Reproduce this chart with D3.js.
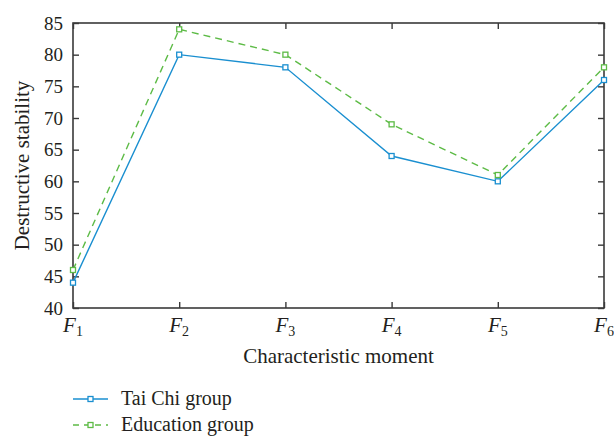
<!DOCTYPE html>
<html>
<head>
<meta charset="utf-8">
<script src="https://cdn.jsdelivr.net/npm/d3@7"></script>
<style>
  body { margin: 0; background: #fff; }
</style>
</head>
<body>
<div id="chart"></div>
<script>
const moments = ["1", "2", "3", "4", "5", "6"];
const taiChiValues = [44, 80, 78, 64, 60, 76];
const educationValues = [46, 84, 80, 69, 61, 78];
const yTicks = [40, 45, 50, 55, 60, 65, 70, 75, 80, 85];

const width = 614;
const height = 438;
const margin = { top: 23, right: 10, bottom: 130, left: 73 };
const serif = "'Liberation Serif', 'Times New Roman', serif";

const svg = d3.select("#chart")
  .append("svg")
  .attr("width", width)
  .attr("height", height)
  .style("font-family", serif);

const x = d3.scalePoint()
  .domain(moments)
  .range([margin.left, width - margin.right]);

const y = d3.scaleLinear()
  .domain([40, 85])
  .range([height - margin.bottom, margin.top]);

const plotLeft = margin.left;
const plotRight = width - margin.right;
const plotTop = margin.top;
const plotBottom = height - margin.bottom;

const axisColor = "#3a3a3a";
const textColor = "#231f20";

// frame
svg.append("rect")
  .attr("x", plotLeft)
  .attr("y", plotTop)
  .attr("width", plotRight - plotLeft)
  .attr("height", plotBottom - plotTop)
  .attr("fill", "none")
  .attr("stroke", axisColor)
  .attr("stroke-width", 1.6);

// left axis with inward ticks
const yAxis = svg.append("g")
  .attr("transform", `translate(${plotLeft},0)`)
  .call(d3.axisLeft(y).tickValues(yTicks).tickSize(-6).tickPadding(10));
yAxis.attr("font-family", null).attr("font-size", null);
yAxis.select(".domain").remove();
yAxis.selectAll("line").attr("stroke", axisColor).attr("stroke-width", 1.4);
yAxis.selectAll("text")
  .attr("fill", textColor)
  .style("font-family", serif)
  .style("font-size", "19px");

// right ticks
svg.append("g")
  .attr("transform", `translate(${plotRight},0)`)
  .call(d3.axisRight(y).tickValues(yTicks).tickSize(-6).tickFormat(""))
  .call((g) => g.select(".domain").remove())
  .call((g) => g.selectAll("line").attr("stroke", axisColor).attr("stroke-width", 1.4));

// bottom axis with inward ticks
const xAxis = svg.append("g")
  .attr("transform", `translate(0,${plotBottom})`)
  .call(d3.axisBottom(x).tickSize(-6).tickFormat(""));
xAxis.select(".domain").remove();
xAxis.selectAll("line").attr("stroke", axisColor).attr("stroke-width", 1.4);

// top ticks
svg.append("g")
  .attr("transform", `translate(0,${plotTop})`)
  .call(d3.axisTop(x).tickSize(-6).tickFormat(""))
  .call((g) => g.select(".domain").remove())
  .call((g) => g.selectAll("line").attr("stroke", axisColor).attr("stroke-width", 1.4));

// x tick labels F with subscript
const xLabels = svg.append("g")
  .selectAll("text")
  .data(moments)
  .join("text")
  .attr("x", (d) => x(d))
  .attr("y", plotBottom + 24)
  .attr("text-anchor", "middle")
  .attr("fill", textColor)
  .style("font-family", serif)
  .style("font-size", "21px");
xLabels.append("tspan")
  .attr("font-style", "italic")
  .text("F");
xLabels.append("tspan")
  .style("font-size", "14px")
  .attr("dy", 4)
  .text((d) => d);

// axis titles
svg.append("text")
  .attr("x", (plotLeft + plotRight) / 2)
  .attr("y", plotBottom + 55)
  .attr("text-anchor", "middle")
  .attr("fill", textColor)
  .style("font-family", serif)
  .style("font-size", "21px")
  .text("Characteristic moment");

svg.append("text")
  .attr("transform", `translate(29,${(plotTop + plotBottom) / 2}) rotate(-90)`)
  .attr("text-anchor", "middle")
  .attr("fill", textColor)
  .style("font-family", serif)
  .style("font-size", "21px")
  .text("Destructive stability");

const series = [
  { name: "Tai Chi group", values: taiChiValues, color: "#1a8fd0", dash: null },
  { name: "Education group", values: educationValues, color: "#5dbb46", dash: "7,5" },
];

const line = d3.line()
  .x((d, i) => x(moments[i]))
  .y((d) => y(d));

series.forEach((s) => {
  svg.append("path")
    .datum(s.values)
    .attr("fill", "none")
    .attr("stroke", s.color)
    .attr("stroke-width", 1.4)
    .attr("stroke-dasharray", s.dash)
    .attr("d", line);

  svg.append("g")
    .selectAll("rect")
    .data(s.values)
    .join("rect")
    .attr("x", (d, i) => x(moments[i]) - 2.5)
    .attr("y", (d) => y(d) - 2.5)
    .attr("width", 5)
    .attr("height", 5)
    .attr("fill", "#fff")
    .attr("stroke", s.color)
    .attr("stroke-width", 1.3);
});

// legend
const legend = svg.append("g")
  .selectAll("g")
  .data(series)
  .join("g")
  .attr("transform", (d, i) => `translate(73,${399 + i * 26})`);

legend.append("line")
  .attr("x1", 0)
  .attr("x2", 35)
  .attr("stroke", (d) => d.color)
  .attr("stroke-width", 1.4)
  .attr("stroke-dasharray", (d) => d.dash ? "6,5" : null);

legend.append("rect")
  .attr("x", 15)
  .attr("y", -2.5)
  .attr("width", 5)
  .attr("height", 5)
  .attr("fill", "#fff")
  .attr("stroke", (d) => d.color)
  .attr("stroke-width", 1.3);

legend.append("text")
  .attr("x", 48)
  .attr("y", 6)
  .attr("fill", textColor)
  .style("font-family", serif)
  .style("font-size", "20px")
  .text((d) => d.name);
</script>
</body>
</html>
